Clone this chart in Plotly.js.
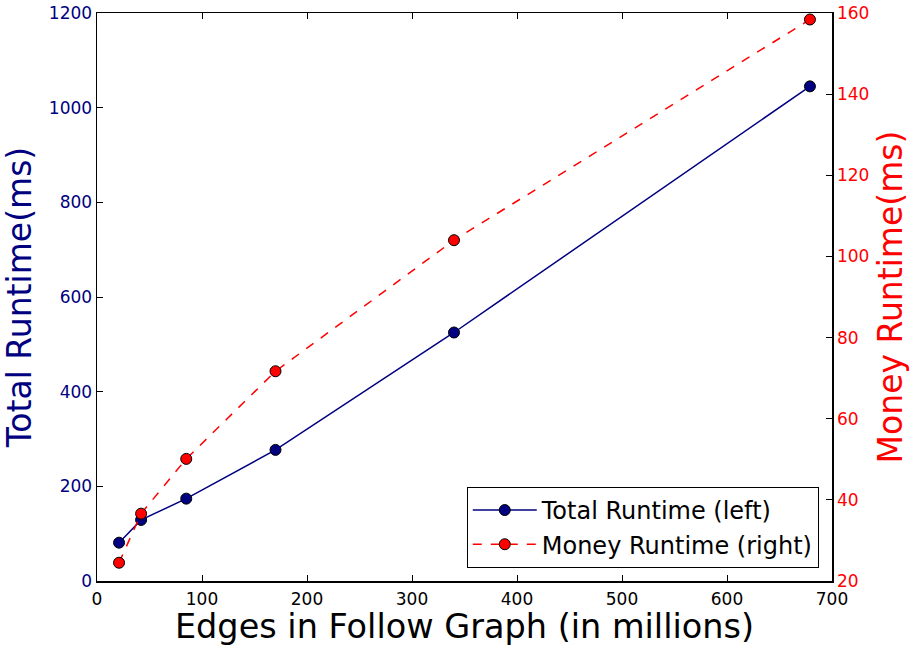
<!DOCTYPE html>
<html>
<head>
<meta charset="utf-8">
<script src="https://cdn.plot.ly/plotly-3.0.1.min.js"></script>
<style>html,body{margin:0;padding:0;background:#fff;}#chart{width:914px;height:646px;}</style>
</head>
<body>
<div id="chart"></div>
<script>
const edges = [21, 42, 85, 170, 340, 679];
const totalRuntime = [81, 129, 174, 277, 525, 1045];
const moneyRuntime = [24.5, 36.6, 50.1, 71.7, 104, 158.4];
const seriesNames = ["Total Runtime (left)", "Money Runtime (right)"];
const xTicks = [0, 100, 200, 300, 400, 500, 600, 700];
const yLeftTicks = [0, 200, 400, 600, 800, 1000, 1200];
const yRightTicks = [20, 40, 60, 80, 100, 120, 140, 160];

const NAVY = '#000080', RED = '#ff0000';
const FONT = 'DejaVu Sans, sans-serif';

const traces = [
  {x: edges, y: totalRuntime, name: seriesNames[0], type: 'scatter', mode: 'lines+markers',
   line: {color: NAVY, width: 1.5}, marker: {color: NAVY, size: 11, line: {color: '#000', width: 1}}, yaxis: 'y'},
  {x: edges, y: moneyRuntime, name: seriesNames[1], type: 'scatter', mode: 'lines+markers',
   line: {color: RED, width: 1.5, dash: 'dash'}, marker: {color: RED, size: 11, line: {color: '#000', width: 1}}, yaxis: 'y2'}
];

const layout = {
  width: 914, height: 646,
  margin: {l: 97, r: 82, t: 13, b: 65},
  paper_bgcolor: '#fff', plot_bgcolor: '#fff',
  font: {family: FONT, color: '#000'},
  showlegend: true,
  legend: {x: 0.982, y: 0.023, xanchor: 'right', yanchor: 'bottom', bordercolor: '#000', borderwidth: 1,
           bgcolor: '#fff', font: {size: 24, family: FONT, color: '#000'}, itemwidth: 64, tracegroupgap: 0},
  xaxis: {range: [0, 700], tickvals: xTicks, ticks: 'inside', ticklen: 6, tickcolor: '#000',
          showline: true, linecolor: '#000', linewidth: 1.5, mirror: 'ticks', showgrid: false, zeroline: false,
          ticklabelstandoff: 2,
          tickfont: {size: 17, family: FONT, color: '#000'},
          title: {text: 'Edges in Follow Graph (in millions)', font: {size: 33.5, family: FONT, color: '#000'}, standoff: 4}},
  yaxis: {range: [0, 1200], tickvals: yLeftTicks, ticks: 'inside', ticklen: 6, tickcolor: '#000',
          showline: true, linecolor: '#000', linewidth: 1.5, showgrid: false, zeroline: false,
          tickfont: {size: 17, family: FONT, color: NAVY},
          title: {text: 'Total Runtime(ms)', font: {size: 33, family: FONT, color: NAVY}, standoff: 8}},
  yaxis2: {range: [20, 160], tickvals: yRightTicks, overlaying: 'y', side: 'right', ticks: 'inside', ticklen: 6, tickcolor: '#000',
           showline: true, linecolor: '#000', linewidth: 1.5, showgrid: false, zeroline: false,
           tickfont: {size: 17, family: FONT, color: RED},
           title: {text: 'Money Runtime(ms)', font: {size: 33, family: FONT, color: RED}, standoff: 10}}
};

Plotly.newPlot('chart', traces, layout, {displayModeBar: false, staticPlot: true});
</script>
</body>
</html>
